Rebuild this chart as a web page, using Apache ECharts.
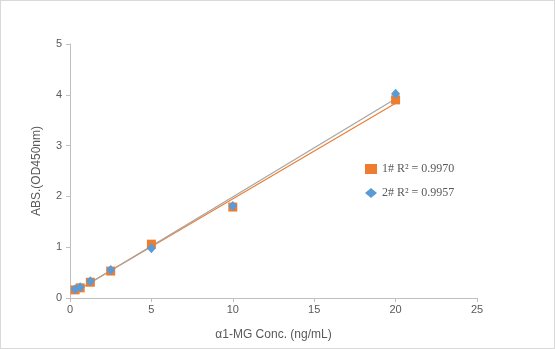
<!DOCTYPE html>
<html><head><meta charset="utf-8">
<script src="https://cdn.jsdelivr.net/npm/echarts@6/dist/echarts.min.js"></script>
<style>html,body{margin:0;padding:0;background:#fff}#c{width:553px;height:347px;border:1px solid #d9d9d9}</style>
</head><body><div id="c"></div>
<script>
const conc = [0.3125, 0.625, 1.25, 2.5, 5, 10, 20];
const abs1 = [0.16, 0.20, 0.31, 0.53, 1.06, 1.79, 3.90];
const abs2 = [0.17, 0.21, 0.33, 0.55, 0.98, 1.81, 4.02];
const name1 = '1# R² = 0.9970';
const name2 = '2# R² = 0.9957';
const xTicks = [0, 5, 10, 15, 20, 25];
const yTicks = [0, 1, 2, 3, 4, 5];

function fit(xs, ys) {
  const n = xs.length;
  const mx = xs.reduce((a, b) => a + b) / n, my = ys.reduce((a, b) => a + b) / n;
  let sxy = 0, sxx = 0;
  for (let i = 0; i < n; i++) { sxy += (xs[i] - mx) * (ys[i] - my); sxx += (xs[i] - mx) ** 2; }
  const k = sxy / sxx, b = my - k * mx;
  const x0 = xs[0], x1 = xs[n - 1];
  return [[x0, k * x0 + b], [x1, k * x1 + b]];
}
const pts = (xs, ys) => xs.map((x, i) => [x, ys[i]]);

const chart = echarts.init(document.getElementById('c'));
const axisCol = '#bfbfbf', txtCol = '#595959';
chart.setOption({
  animation: false,
  grid: { left: 69, right: 77, top: 43, bottom: 50 },
  xAxis: {
    type: 'value', min: xTicks[0], max: xTicks[xTicks.length - 1], interval: 5,
    name: 'α1-MG Conc. (ng/mL)', nameLocation: 'middle', nameGap: 31,
    nameTextStyle: { color: txtCol, fontSize: 12, fontFamily: 'Liberation Sans' },
    axisLine: { lineStyle: { color: axisCol } },
    axisTick: { show: true, length: 4, lineStyle: { color: axisCol } },
    axisLabel: { color: txtCol, fontSize: 11, fontFamily: 'Liberation Sans', margin: 6 },
    splitLine: { show: false }
  },
  yAxis: {
    type: 'value', min: yTicks[0], max: yTicks[yTicks.length - 1], interval: 1,
    name: 'ABS.(OD450nm)', nameLocation: 'middle', nameGap: 27,
    nameTextStyle: { color: txtCol, fontSize: 12, fontFamily: 'Liberation Sans' },
    axisLine: { show: true, lineStyle: { color: axisCol } },
    axisTick: { show: true, length: 4, lineStyle: { color: axisCol } },
    axisLabel: { color: txtCol, fontSize: 11, fontFamily: 'Liberation Sans', margin: 8 },
    splitLine: { show: false }
  },
  legend: {
    orient: 'vertical', left: 359, top: 157, itemGap: 12,
    itemWidth: 12, itemHeight: 10,
    data: [{ name: name1, icon: 'rect' }, { name: name2, icon: 'diamond' }],
    textStyle: { color: txtCol, fontSize: 12, fontFamily: 'Liberation Serif' }
  },
  series: [
    { name: 'trend1', type: 'line', data: fit(conc, abs1), symbol: 'none', lineStyle: { color: '#ED7D31', width: 1.2 }, z: 1 },
    { name: 'trend2', type: 'line', data: fit(conc, abs2), symbol: 'none', lineStyle: { color: '#A5A5A5', width: 1.2 }, z: 1 },
    { name: name1, type: 'scatter', data: pts(conc, abs1), symbol: 'rect', symbolSize: 9, itemStyle: { color: '#ED7D31', opacity: 1 }, z: 2 },
    { name: name2, type: 'scatter', data: pts(conc, abs2), symbol: 'diamond', symbolSize: [9, 10], itemStyle: { color: '#5B9BD5', opacity: 1 }, z: 3 }
  ]
});
</script></body></html>
